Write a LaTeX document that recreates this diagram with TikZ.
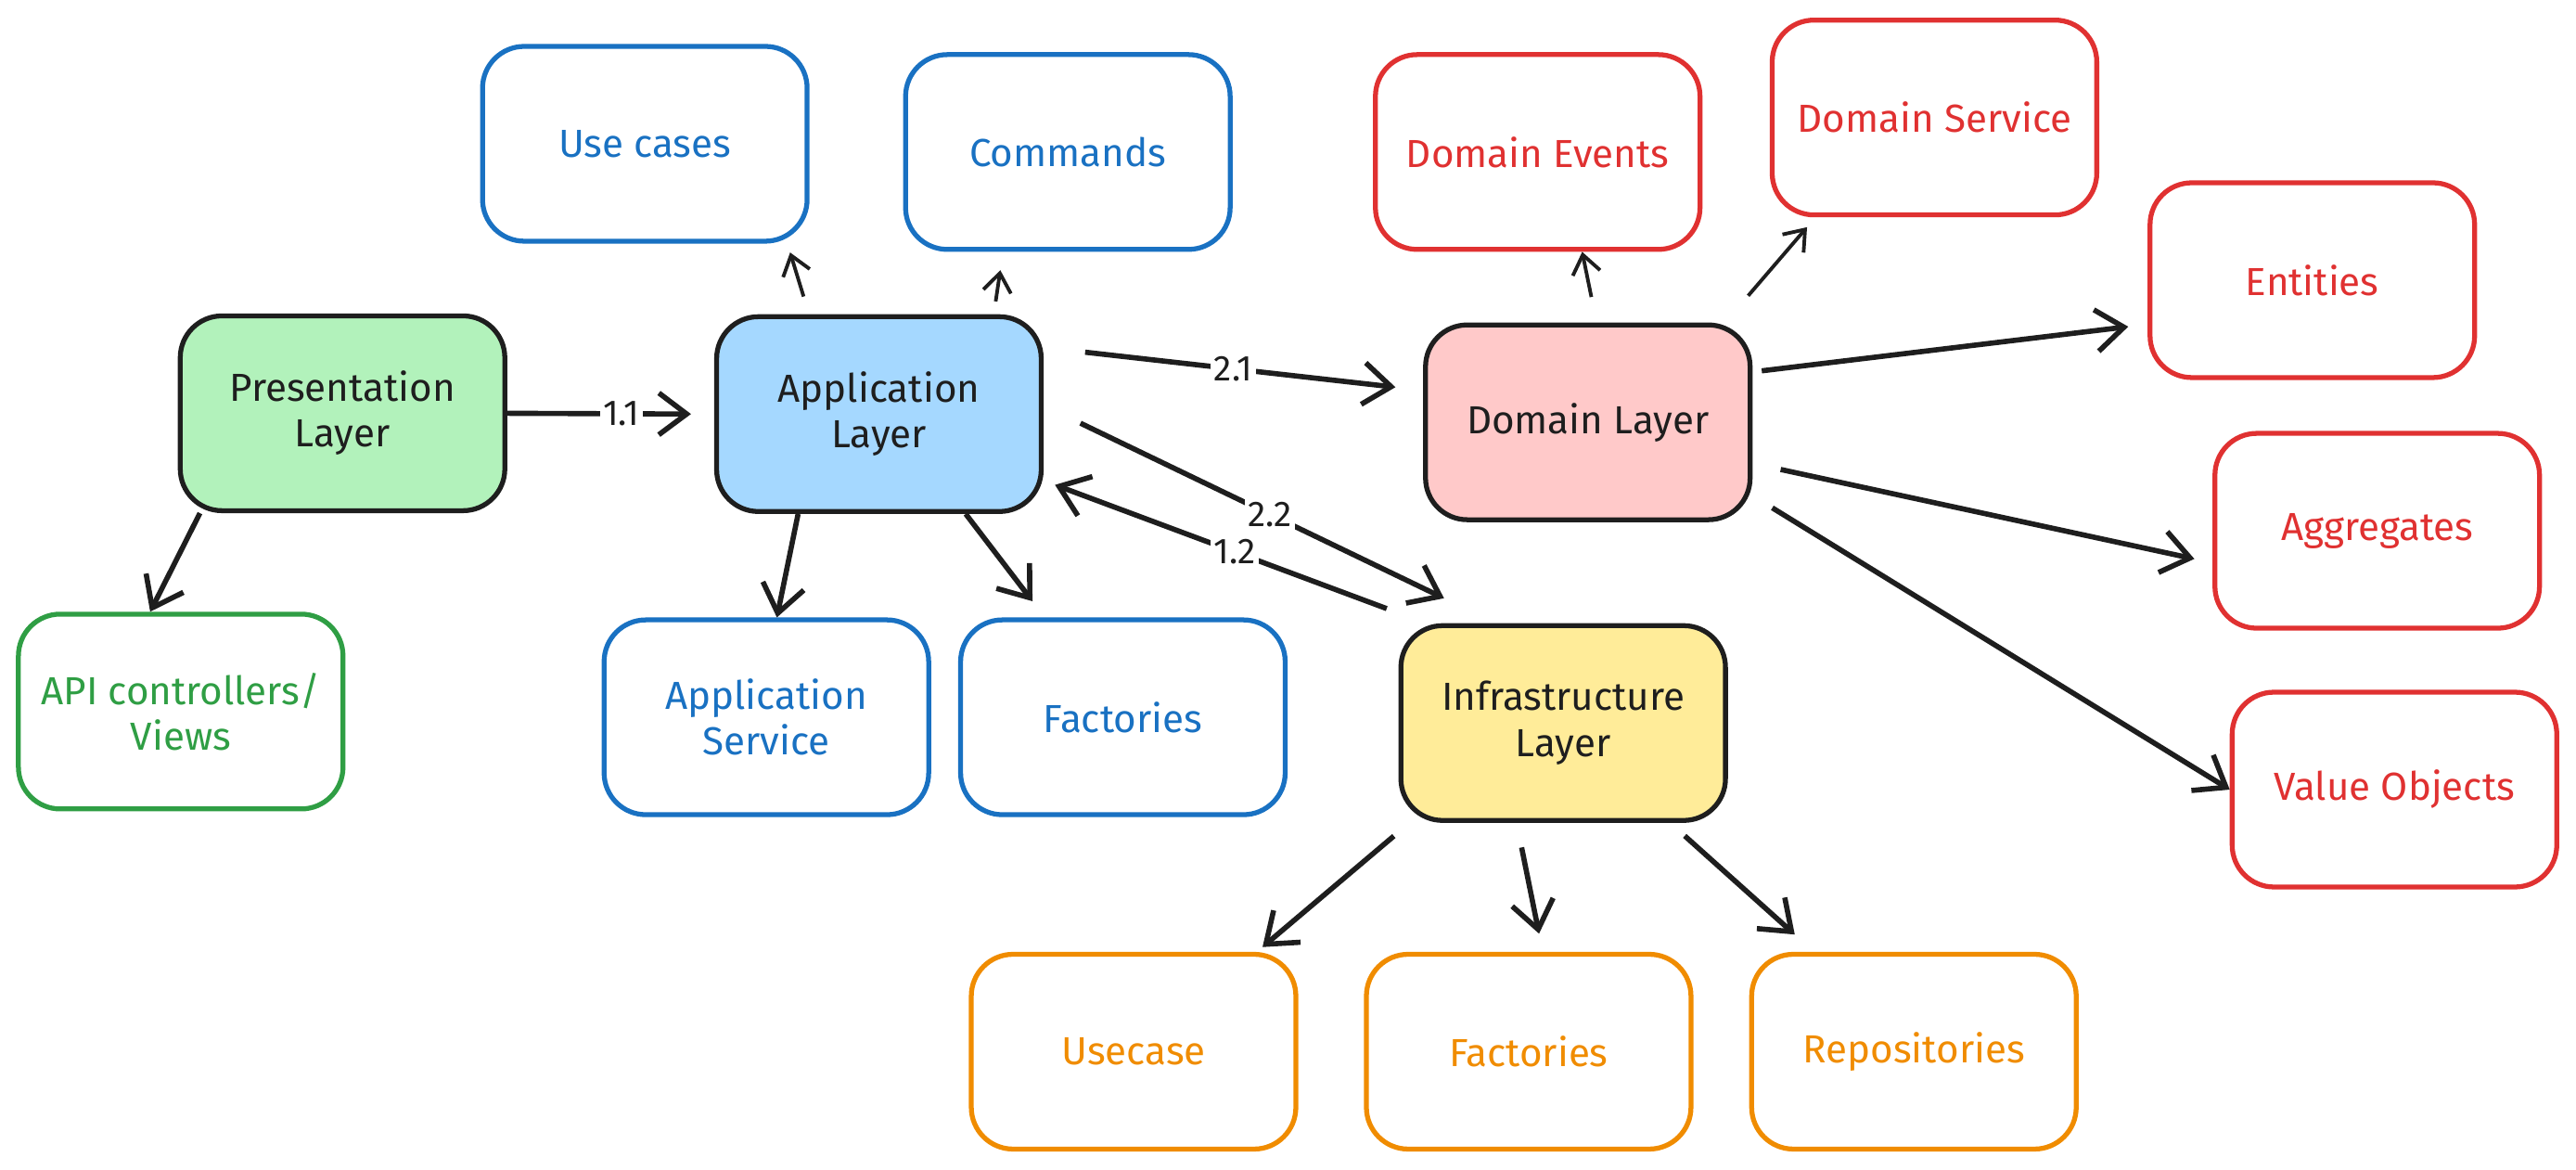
\documentclass[tikz,border=0pt]{standalone}
\usepackage{fontspec}
\setmainfont{Fira Sans}
\usepackage{tikz}
\usetikzlibrary{arrows.meta}
\usepackage{xcolor}
\definecolor{ink}{HTML}{1E1E1E}
\definecolor{fgreen}{HTML}{B2F2BB}
\definecolor{fblue}{HTML}{A5D8FF}
\definecolor{fred}{HTML}{FFC9C9}
\definecolor{fyellow}{HTML}{FFEC99}
\definecolor{lgreen}{HTML}{2F9E44}
\definecolor{lblue}{HTML}{1971C2}
\definecolor{lred}{HTML}{E03131}
\definecolor{lorange}{HTML}{F08C00}
\tikzset{
  layer/.style={draw=ink, line width=1.5pt, rounded corners=0.45cm,
    minimum width=3.5cm, minimum height=2.1cm, align=center, text=ink,
    font=\fontsize{12}{14}\selectfont},
  greenitem/.style={layer, draw=lgreen, text=lgreen},
  blueitem/.style={layer, draw=lblue, text=lblue},
  reditem/.style={layer, draw=lred, text=lred},
  orangeitem/.style={layer, draw=lorange, text=lorange},
  arr/.style={draw=ink, line width=1.6pt, -{Straight Barb[length=0.3cm,width=0.45cm]}},
  arrs/.style={draw=ink, line width=1.1pt, -{Straight Barb[length=0.2cm,width=0.3cm]}},
  lbl/.style={fill=white, inner sep=1pt, text=ink, font=\fontsize{11}{13}\selectfont},
}

\begin{document}
\begin{tikzpicture}[x=0.01771cm, y=-0.01771cm]

    \useasboundingbox (0,0) rectangle (1568,712);

    % layers
    \node[layer, fill=fgreen] (pres) at (208.5,251.5) {Presentation\\Layer};
    \node[layer, fill=fblue] (app) at (535,252) {Application\\Layer};
    \node[layer, fill=fred] (dom) at (966.5,257) {Domain Layer};
    \node[layer, fill=fyellow] (infra) at (951.5,440) {Infrastructure\\Layer};

    % presentation
    \node[greenitem] (api) at (110,433) {API controllers/\\Views};

    % application
    \node[blueitem] (uc) at (392.5,87.5) {Use cases};
    \node[blueitem] (cmd) at (650,92.5) {Commands};
    \node[blueitem] (asvc) at (466.5,436.5) {Application\\Service};
    \node[blueitem] (afac) at (683.5,436.5) {Factories};

    % domain
    \node[reditem] (devt) at (936,92.5) {Domain Events};
    \node[reditem] (dsvc) at (1177.5,71.5) {Domain Service};
    \node[reditem] (ent) at (1407.5,170.5) {Entities};
    \node[reditem] (agg) at (1447,323) {Aggregates};
    \node[reditem] (vo) at (1457.5,480.5) {Value Objects};

    % infrastructure
    \node[orangeitem] (ucase) at (690,640) {Usecase};
    \node[orangeitem] (ifac) at (930.5,640) {Factories};
    \node[orangeitem] (repo) at (1165,640) {Repositories};

    % arrows
    \draw[arr, shorten >=0.25cm] (pres.east) -- node[lbl, pos=0.55] {1.1} (app.west);
    \draw[arr] (pres.215) -- (api.107);

    \draw[arrs, shorten <=0.2cm, shorten >=0.1cm] (app.125) -- (uc.-35);
    \draw[arrs, shorten <=0.14cm, shorten >=0.2cm] (app.41) -- (cmd.237);
    \draw[arr] (app.231) -- (asvc.84);
    \draw[arr, shorten >=0.22cm] (app.311) -- (afac.128);
    \draw[arr, shorten <=0.45cm, shorten >=0.3cm] (app.22) -- node[lbl] {2.1} (dom.169);
    \draw[arr, shorten <=0.44cm, shorten >=0.62cm] (app.3) -- node[lbl] {2.2} (infra.124);
    \draw[arr, shorten <=0.45cm, shorten >=0.13cm] (infra.144) -- node[lbl] {1.2} (app.-22);

    \draw[arrs, shorten <=0.28cm] (dom.85) -- (devt.294);
    \draw[arrs, shorten <=0.38cm, shorten >=0.14cm] (dom.36) -- (dsvc.220);
    \draw[arr, shorten <=0.1cm, shorten >=0.21cm] (dom.17) -- (ent.195);
    \draw[arr, shorten <=0.31cm, shorten >=0.2cm] (dom.-14) -- (agg.191);
    \draw[arr, shorten <=0.25cm] (dom.-24) -- (vo.west);

    \draw[arr, shorten <=0.22cm, shorten >=0.08cm] (infra.213) -- (ucase.39);
    \draw[arr, shorten <=0.27cm, shorten >=0.2cm] (infra.245) -- (ifac.82);
    \draw[arr, shorten <=0.21cm, shorten >=0.28cm] (infra.317) -- (repo.135);

\end{tikzpicture}
\end{document}
